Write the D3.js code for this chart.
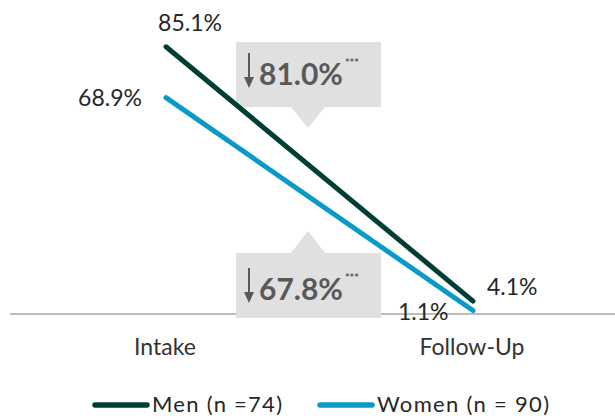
<!DOCTYPE html>
<html>
<head>
<meta charset="utf-8">
<script src="https://cdn.jsdelivr.net/npm/d3@7"></script>
<style>
  body { margin: 0; background: #fff; }
  svg { font-family: Lato, "Open Sans", sans-serif; }
</style>
</head>
<body>
<div id="chart"></div>
<script>
// data
const timepoints = ["Intake", "Follow-Up"];
const seriesNames = ["Men (n =74)", "Women (n = 90)"];
const menValues = [85.1, 4.1];
const womenValues = [68.9, 1.1];
const changeLabels = ["81.0%", "67.8%"];
const colors = ["#003d34", "#0a9ac8"];

const width = 615, height = 419;

const svg = d3.select("#chart").append("svg")
    .attr("width", width)
    .attr("height", height);

const x = d3.scalePoint().domain(timepoints).range([166, 473]);
const y = d3.scaleLinear().domain([0, 100]).range([314, 0]);

// baseline
svg.append("line")
    .attr("x1", 10).attr("x2", width)
    .attr("y1", y(0)).attr("y2", y(0))
    .attr("stroke", "#a6a6a6")
    .attr("stroke-width", 1.5);

// category labels
svg.selectAll(".cat").data(timepoints).enter().append("text")
    .attr("x", d => x(d) - 1)
    .attr("y", 355)
    .attr("text-anchor", "middle")
    .attr("font-size", 23)
    .attr("fill", "#333")
    .text(d => d);

// callouts: box top/bottom, pointer direction, label, text offset
function callout(cy0, cy1, pointDown, label, textOff) {
    let g = svg.append("g");
    let x0 = 236, x1 = 381, cx = 308;
    let tri = pointDown
        ? [[291, cy1], [325, cy1], [cx, cy1 + 21]]
        : [[291, cy0], [325, cy0], [cx, cy0 - 22]];
    g.append("rect")
        .attr("x", x0).attr("y", cy0)
        .attr("width", x1 - x0).attr("height", cy1 - cy0)
        .attr("fill", "#e0e0e0");
    g.append("path")
        .attr("d", d3.line()(tri) + "Z")
        .attr("fill", "#e0e0e0");
    // arrow
    let ax = 249, ay0 = cy0 + textOff - 32, ay1 = cy0 + textOff + 3;
    g.append("line")
        .attr("x1", ax).attr("x2", ax)
        .attr("y1", ay0).attr("y2", ay1 - 6)
        .attr("stroke", "#595959").attr("stroke-width", 2);
    g.append("path")
        .attr("d", `M${ax - 5},${ay1 - 11}L${ax},${ay1}L${ax + 5},${ay1 - 11}Z`)
        .attr("fill", "#595959");
    let t = g.append("text")
        .attr("x", 259).attr("y", cy0 + textOff)
        .attr("font-size", 30)
        .attr("font-weight", "bold")
        .attr("fill", "#595959")
        .text(label);
    t.append("tspan")
        .attr("dx", 2)
        .attr("dy", -18)
        .attr("font-size", 11)
        .text("***");
}
callout(42, 107, true, changeLabels[0], 43);
callout(253, 318, false, changeLabels[1], 47);

// lines
const lineGen = d3.line().x((d, i) => x(timepoints[i])).y(d => y(d));
[menValues, womenValues].forEach((vals, i) => {
    svg.append("path")
        .attr("d", lineGen(vals))
        .attr("fill", "none")
        .attr("stroke", colors[i])
        .attr("stroke-width", 5)
        .attr("stroke-linecap", "round");
});

// value labels
const labelSpecs = [
    {v: menValues[0], x: x(timepoints[0]) + 24, y: 31, anchor: "middle"},
    {v: womenValues[0], x: x(timepoints[0]) - 24, y: 106, anchor: "end"},
    {v: menValues[1], x: x(timepoints[1]) + 14, y: 295, anchor: "start"},
    {v: womenValues[1], x: x(timepoints[1]) - 75, y: 320, anchor: "start"}
];
svg.selectAll(".val").data(labelSpecs).enter().append("text")
    .attr("x", d => d.x)
    .attr("y", d => d.y)
    .attr("text-anchor", d => d.anchor)
    .attr("font-size", 23)
    .attr("fill", "#262626")
    .text(d => d.v.toFixed(1) + "%");

// legend
const legendX = [93, 318];
const legendTextLen = [130, 172];
seriesNames.forEach((name, i) => {
    let g = svg.append("g").attr("transform", `translate(${legendX[i]}, 405)`);
    g.append("line")
        .attr("x1", 2).attr("x2", 54)
        .attr("y1", 0).attr("y2", 0)
        .attr("stroke", colors[i])
        .attr("stroke-width", 5.5)
        .attr("stroke-linecap", "round");
    g.append("text")
        .attr("x", 59).attr("y", 7)
        .attr("font-size", 22)
        .attr("fill", "#262626")
        .attr("textLength", legendTextLen[i])
        .attr("lengthAdjust", "spacing")
        .text(name);
});
</script>
</body>
</html>
